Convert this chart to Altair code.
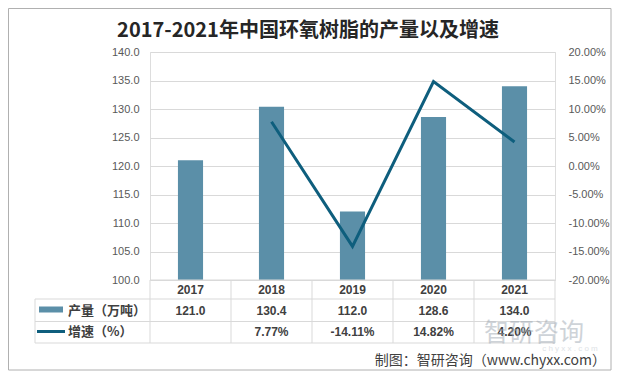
import altair as alt
import pandas as pd

years = ["2017", "2018", "2019", "2020", "2021"]
production = [121.0, 130.4, 112.0, 128.6, 134.0]
growth = [None, 0.0777, -0.1411, 0.1482, 0.0420]
left_ticks = [100, 105, 110, 115, 120, 125, 130, 135, 140]
right_ticks = [-0.20, -0.15, -0.10, -0.05, 0.0, 0.05, 0.10, 0.15, 0.20]

title_text = "2017-2021年中国环氧树脂的产量以及增速"
prod_label = "产量（万吨）"
growth_label = "增速（%）"
source_text = "制图：智研咨询（www.chyxx.com）"
watermark_text = "智研咨询"
watermark_url = "c h y x x . c o m"

df = pd.DataFrame({"year": years, "prod": production, "growth": growth})

W, H = 405, 228
N = len(years)
STEP = W / N
BAR = "#5B8FA8"
LINE = "#0E5E7D"
GRID = "#D9D9D9"
TXT = "#404040"
AXT = "#595959"
CJK = "Noto Sans CJK SC"
LAT = "Liberation Sans"

base = alt.Chart(df)
xenc = alt.X("year:O", scale=alt.Scale(paddingInner=0.69, paddingOuter=0.345), axis=None)

bars = base.mark_bar(color=BAR).encode(
    x=xenc,
    y=alt.Y(
        "prod:Q",
        scale=alt.Scale(domain=[100, 140], zero=False, nice=False),
        axis=alt.Axis(
            values=left_ticks, format=".1f", grid=True, gridColor=GRID,
            ticks=False, domain=False, labelPadding=11, labelColor=AXT,
            labelFont=LAT, labelFontSize=11, title=None,
        ),
    ),
    y2=alt.datum(100),
)

line = base.transform_filter("isValid(datum.growth)").mark_line(
    color=LINE, strokeWidth=3
).encode(
    x=xenc,
    y=alt.Y(
        "growth:Q",
        scale=alt.Scale(domain=[-0.2, 0.2], nice=False, zero=False),
        axis=alt.Axis(
            orient="right", values=right_ticks,
            labelExpr="replace(format(datum.value, '.2%'), '\u2212', '-')",
            grid=False, ticks=False, domain=False, labelPadding=13, labelColor=AXT,
            labelFont=LAT, labelFontSize=11, title=None,
        ),
    ),
)

cell_text = dict(font=LAT, fontSize=12, fontWeight="bold", color=TXT, baseline="middle", align="center")
header_row = base.mark_text(**cell_text).encode(x=xenc, y=alt.value(238), text="year:O")
prod_row = base.mark_text(**cell_text).encode(
    x=xenc, y=alt.value(259), text=alt.Text("prod:Q", format=".1f")
)
growth_row = base.transform_filter("isValid(datum.growth)").transform_calculate(
    gtxt="replace(format(datum.growth, '.2%'), '\u2212', '-')"
).mark_text(**cell_text).encode(
    x=xenc, y=alt.value(279.5), text="gtxt:N"
)


def single():
    return alt.Chart(pd.DataFrame({"k": [0]}))


decor = []
# table horizontal lines
for yy, x0 in [(228, 0), (247, -115), (269.5, -115), (291, -115)]:
    decor.append(single().mark_rule(color=GRID, strokeWidth=1).encode(
        x=alt.value(x0), x2=alt.value(W), y=alt.value(yy)))
# table vertical lines
decor.append(single().mark_rule(color=GRID, strokeWidth=1).encode(
    x=alt.value(-115), y=alt.value(247), y2=alt.value(291)))
for i in range(N + 1):
    decor.append(single().mark_rule(color=GRID, strokeWidth=1).encode(
        x=alt.value(i * STEP), y=alt.value(228), y2=alt.value(291)))

# legend keys in table
decor.append(single().mark_rect(color=BAR).encode(
    x=alt.value(-111), x2=alt.value(-87), y=alt.value(254.5), y2=alt.value(260.5)))
decor.append(single().mark_rule(color=LINE, strokeWidth=3).encode(
    x=alt.value(-113), x2=alt.value(-85), y=alt.value(279.5)))

lab = dict(font=CJK, fontSize=13, fontWeight="bold", color=TXT, align="left", baseline="middle")
decor.append(single().mark_text(**lab, text=prod_label).encode(x=alt.value(-82), y=alt.value(259)))
decor.append(single().mark_text(**lab, text=growth_label).encode(x=alt.value(-82), y=alt.value(279.5)))

title = single().mark_text(
    text=title_text, font=CJK, fontSize=20, fontWeight="bold", color="#262626",
    align="center", baseline="middle",
).encode(x=alt.value(158), y=alt.value(-21.5))

source = single().mark_text(
    text=source_text, font=CJK, fontSize=14, color=TXT, align="right", baseline="middle"
).encode(x=alt.value(456), y=alt.value(309))

wm = single().mark_text(
    text=watermark_text, font=CJK, fontSize=25, color="#9EA8B3", opacity=0.5,
    align="left", baseline="middle",
).encode(x=alt.value(334), y=alt.value(281))
wm2 = single().mark_text(
    text=watermark_url, font=LAT, fontSize=8, color="#C9CFD6", opacity=0.6,
    align="center", baseline="middle",
).encode(x=alt.value(420), y=alt.value(297))

border = single().mark_rect(fill=None, stroke="#B0B0B0", strokeWidth=1).encode(
    x=alt.value(-141.5), x2=alt.value(461), y=alt.value(-43.5), y2=alt.value(318))

chart = alt.layer(
    border, bars, line, *decor, header_row, prod_row, growth_row, title, source, wm, wm2
).resolve_scale(y="independent").properties(
    width=W, height=H,
    autosize=alt.AutoSizeParams(type="none"),
    padding={"left": 142, "top": 44, "right": 58, "bottom": 92},
).configure_view(stroke=None).configure(background="white")

chart.save("out.html", embed_options={"renderer": "svg", "actions": False})
